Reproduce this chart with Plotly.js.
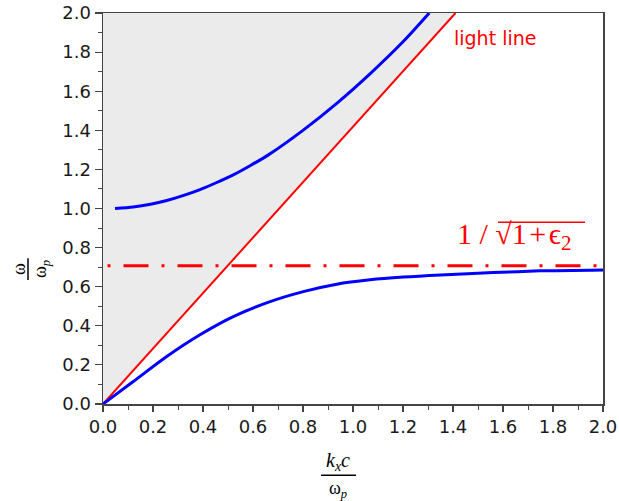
<!DOCTYPE html>
<html>
<head>
<meta charset="utf-8">
<script src="https://cdn.plot.ly/plotly-3.0.1.min.js"></script>
<style>html,body{margin:0;padding:0;background:#fff;}#chart{width:619px;height:501px;}</style>
</head>
<body>
<div id="chart"></div>
<script>
// ---- data ----
var upperK = [0.048, 0.121, 0.19, 0.255, 0.32, 0.388, 0.455, 0.521, 0.59, 0.66, 0.801, 0.935, 1.068, 1.201, 1.305];
var upperW = [1.0, 1.008, 1.022, 1.041, 1.066, 1.097, 1.133, 1.172, 1.22, 1.273, 1.401, 1.538, 1.689, 1.854, 2.0];
var lowerK = [0, 0.121, 0.255, 0.388, 0.521, 0.66, 0.801, 0.935, 1.068, 1.201, 1.35, 1.561, 1.748, 2.0];
var lowerW = [0, 0.115, 0.243, 0.354, 0.447, 0.52, 0.575, 0.613, 0.635, 0.649, 0.66, 0.672, 0.681, 0.686];
var lightK = [0, 1.41];
var lightW = [0, 2.0];
var asymK = [0.018, 2.0];
var asymW = [0.707, 0.707];
var tickVals = [0, 0.2, 0.4, 0.6, 0.8, 1.0, 1.2, 1.4, 1.6, 1.8, 2.0];
var tickText = ['0.0','0.2','0.4','0.6','0.8','1.0','1.2','1.4','1.6','1.8','2.0'];
var axisMax = 2.0;

var traces = [
  { // shaded region above light line
    x: [lightK[0], lightK[1], 0], y: [lightW[0], lightW[1], axisMax],
    mode: 'lines', fill: 'toself', fillcolor: '#ebebeb',
    line: {width: 0, color: 'rgba(0,0,0,0)'}, hoverinfo: 'skip', showlegend: false
  },
  {
    x: lightK, y: lightW, mode: 'lines',
    line: {color: '#ff0000', width: 2}, showlegend: false
  },
  {
    x: asymK, y: asymW, mode: 'lines',
    line: {color: '#ff0000', width: 3, dash: '3px,13px,25px,13px'}, showlegend: false
  },
  {
    x: upperK, y: upperW, mode: 'lines',
    line: {color: '#0000ff', width: 3, shape: 'spline', smoothing: 0.8}, showlegend: false
  },
  {
    x: lowerK, y: lowerW, mode: 'lines',
    line: {color: '#0000ff', width: 3, shape: 'spline', smoothing: 0.8}, showlegend: false
  }
];

var axisCommon = {
  range: [0, 2.0], tickvals: tickVals, ticktext: tickText,
  ticks: 'outside', tickcolor: '#444', tickwidth: 1.2,
  showline: true, linecolor: '#444', linewidth: 1.5, mirror: true,
  showgrid: false, zeroline: false,
  tickfont: {family: 'DejaVu Sans', size: 18, color: '#1a1a1a'},
  minor: {dtick: 0.1, ticks: 'outside', ticklen: 4, tickcolor: '#444', tickwidth: 1}
};

var layout = {
  width: 619, height: 501,
  margin: {l: 103, r: 16, t: 13, b: 97},
  paper_bgcolor: '#ffffff', plot_bgcolor: '#ffffff',
  xaxis: Object.assign({}, axisCommon, {ticklen: 6}),
  yaxis: Object.assign({}, axisCommon, {ticklen: 7}),
  showlegend: false,
  annotations: [
    {xref: 'paper', yref: 'paper', x: 0.783, y: 0.936, text: 'light line', showarrow: false,
     font: {family: 'DejaVu Sans', size: 19, color: '#ff0000'}, xanchor: 'center', yanchor: 'middle'},
    {xref: 'paper', yref: 'paper', x: 0.822, y: 0.43,
     text: '1 / √1\u200A+\u200Aϵ<sub>2</sub>', showarrow: false,
     font: {family: 'Liberation Serif, DejaVu Serif', size: 30, color: '#ff0000'}, xanchor: 'center', yanchor: 'middle'},
    // x axis title fraction
    {xref: 'paper', yref: 'paper', x: 0.47, y: -0.148, text: '<i>k<sub>x</sub>c</i>', showarrow: false,
     font: {family: 'Liberation Serif', size: 20, color: '#000'}, xanchor: 'center', yanchor: 'middle'},
    {xref: 'paper', yref: 'paper', x: 0.47, y: -0.218, text: 'ω<sub><i>p</i></sub>', showarrow: false,
     font: {family: 'Liberation Serif', size: 18, color: '#000'}, xanchor: 'center', yanchor: 'middle'},
    // y axis title fraction
    {xref: 'paper', yref: 'paper', x: -0.168, y: 0.345, text: 'ω', showarrow: false, textangle: -90,
     font: {family: 'Liberation Serif', size: 18, color: '#000'}, xanchor: 'center', yanchor: 'middle'},
    {xref: 'paper', yref: 'paper', x: -0.124, y: 0.345, text: 'ω<sub><i>p</i></sub>', showarrow: false, textangle: -90,
     font: {family: 'Liberation Serif', size: 18, color: '#000'}, xanchor: 'center', yanchor: 'middle'}
  ],
  shapes: [
    {type: 'line', xref: 'paper', yref: 'paper', x0: 0.436, x1: 0.506, y0: -0.182, y1: -0.182,
     line: {color: '#000', width: 1.5}},
    {type: 'line', xref: 'paper', yref: 'paper', x0: -0.15, x1: -0.15, y0: 0.317, y1: 0.373,
     line: {color: '#000', width: 1.5}},
    // radical overline
    {type: 'line', xref: 'paper', yref: 'paper', x0: 0.79, x1: 0.964, y0: 0.465, y1: 0.465,
     line: {color: '#ff0000', width: 1.5}}
  ]
};

Plotly.newPlot('chart', traces, layout, {displayModeBar: false, staticPlot: true});
</script>
</body>
</html>
